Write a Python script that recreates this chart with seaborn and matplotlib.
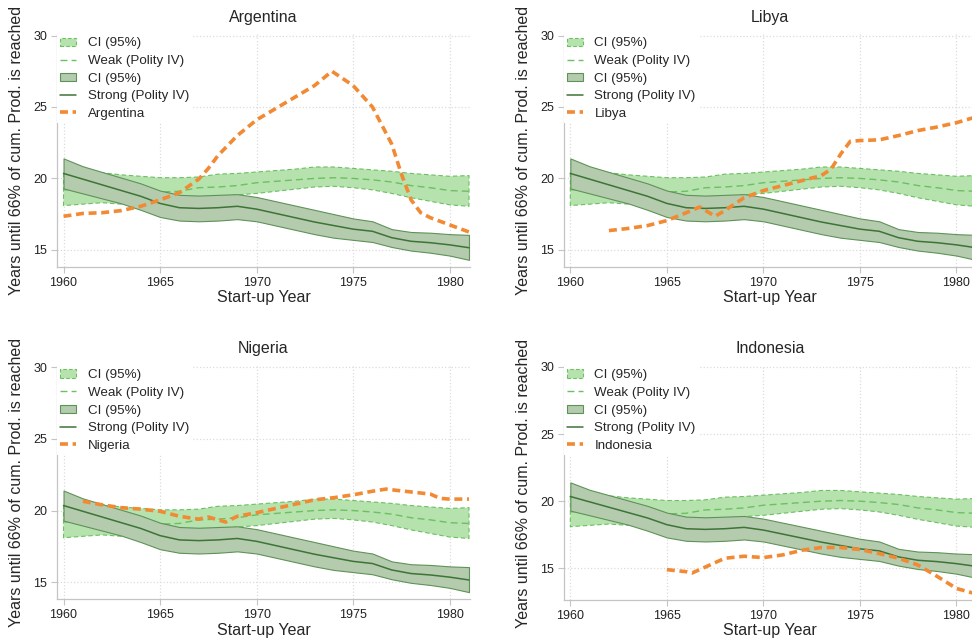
import matplotlib
matplotlib.use("Agg")
import matplotlib.pyplot as plt
import seaborn as sns
import numpy as np
import pandas as pd

# ---------------- data ----------------
years = list(range(1960, 1982))

strong_mean = [20.35, 19.95, 19.55, 19.15, 18.75, 18.25, 17.95, 17.9, 17.95, 18.05, 17.85,
               17.55, 17.25, 16.95, 16.7, 16.45, 16.3, 15.85, 15.6, 15.5, 15.35, 15.15]
strong_upper = [21.4, 20.85, 20.45, 20.05, 19.65, 19.15, 18.85, 18.8, 18.85, 18.9, 18.7,
                18.4, 18.1, 17.8, 17.5, 17.2, 17.0, 16.45, 16.25, 16.2, 16.1, 16.05]
strong_lower = [19.3, 18.95, 18.6, 18.25, 17.8, 17.3, 17.05, 17.0, 17.05, 17.15, 17.0,
                16.7, 16.4, 16.1, 15.85, 15.7, 15.55, 15.2, 14.95, 14.8, 14.6, 14.3]

weak_mean = [19.2, 19.25, 19.3, 19.25, 19.15, 19.05, 19.1, 19.35, 19.4, 19.5, 19.7,
             19.8, 19.9, 20.0, 20.05, 20.0, 19.9, 19.75, 19.5, 19.35, 19.15, 19.1]
weak_upper = [20.4, 20.5, 20.4, 20.25, 20.15, 20.05, 20.05, 20.1, 20.3, 20.35, 20.45,
              20.55, 20.65, 20.8, 20.8, 20.7, 20.6, 20.5, 20.35, 20.25, 20.15, 20.2]
weak_lower = [18.1, 18.2, 18.3, 18.2, 18.1, 18.1, 18.2, 18.5, 18.7, 18.85, 18.95,
              19.1, 19.25, 19.4, 19.45, 19.35, 19.2, 18.95, 18.65, 18.4, 18.15, 18.05]

arg_years = [1960, 1961, 1962, 1963, 1964, 1965, 1966, 1967, 1967.5, 1968, 1969, 1970, 1971,
             1972, 1973, 1973.9, 1975, 1976, 1977, 1977.5, 1978, 1978.5, 1979, 1980, 1981]
arg_vals = [17.35, 17.55, 17.6, 17.75, 18.05, 18.5, 19.0, 19.95, 20.7, 21.6, 23.0, 24.1, 24.9,
            25.7, 26.5, 27.5, 26.5, 25.0, 22.4, 20.3, 18.5, 17.6, 17.25, 16.75, 16.25]

lby_years = [1962, 1963, 1964, 1965, 1966, 1966.7, 1967.5, 1968, 1969, 1970, 1971, 1972,
             1973, 1973.5, 1974, 1974.5, 1975, 1976, 1977, 1978, 1979, 1980, 1981]
lby_vals = [16.35, 16.5, 16.7, 17.05, 17.6, 18.0, 17.35, 17.75, 18.65, 19.15, 19.5, 19.85,
            20.2, 20.65, 21.7, 22.6, 22.65, 22.7, 23.0, 23.35, 23.6, 23.9, 24.3]

nga_years = [1961, 1962, 1963, 1964, 1965, 1966, 1967, 1967.5, 1968, 1968.4, 1969, 1970,
             1971, 1972, 1973, 1974, 1975, 1976, 1976.7, 1977, 1978, 1979, 1979.5, 1980, 1981]
nga_vals = [20.65, 20.4, 20.2, 20.1, 19.95, 19.6, 19.4, 19.55, 19.35, 19.2, 19.6, 19.85,
            20.15, 20.45, 20.75, 20.9, 21.1, 21.35, 21.5, 21.45, 21.3, 21.15, 20.85, 20.8, 20.8]

idn_years = [1965, 1966, 1966.3, 1967, 1968, 1969, 1970, 1971, 1972, 1973, 1974, 1975,
             1976, 1977, 1978, 1979, 1980, 1981]
idn_vals = [14.9, 14.75, 14.65, 15.1, 15.75, 15.9, 15.8, 16.0, 16.35, 16.55, 16.55, 16.4,
            16.1, 15.75, 15.25, 14.4, 13.5, 13.1]

countries = ["Argentina", "Libya", "Nigeria", "Indonesia"]
country_series = {
    "Argentina": (arg_years, arg_vals),
    "Libya": (lby_years, lby_vals),
    "Nigeria": (nga_years, nga_vals),
    "Indonesia": (idn_years, idn_vals),
}
ylims = {"Argentina": (13.8, 30.1), "Libya": (13.8, 30.1),
         "Nigeria": (13.8, 30.1), "Indonesia": (12.64, 30.07)}

y_label = "Years until 66% of cum. Prod. is reached"
x_label = "Start-up Year"

# ---------------- style ----------------
sns.set_style("white")
plt.rcParams["font.family"] = ["Liberation Sans", "DejaVu Sans"]

WEAK_FILL = "#b6e2ae"
WEAK_EDGE = "#6cbf62"
STRONG_FILL = "#b4cbae"
STRONG_EDGE = "#5f9259"
STRONG_LINE = "#3d7437"
ORANGE = "#f28a33"
GRID = "#dcdcdc"
SPINE = "#c4c4c4"

fig = plt.figure(figsize=(9.72, 6.44), dpi=100)
positions = {
    "Argentina": [0.0586, 0.5854, 0.4249, 0.3616],
    "Libya": [0.5800, 0.5854, 0.4249, 0.3616],
    "Nigeria": [0.0586, 0.0694, 0.4249, 0.3623],
    "Indonesia": [0.5800, 0.0683, 0.4249, 0.3634],
}

band = pd.DataFrame({"year": years, "strong": strong_mean, "weak": weak_mean})

for name in countries:
    ax = fig.add_axes(positions[name])
    ax.fill_between(years, weak_lower, weak_upper, facecolor=WEAK_FILL,
                    edgecolor=WEAK_EDGE, linewidth=0.8, linestyle=(0, (4, 2.5)),
                    label="CI (95%)", zorder=2)
    sns.lineplot(data=band, x="year", y="weak", ax=ax, color=WEAK_EDGE, linewidth=1.0,
                 linestyle=(0, (5, 3)), label="Weak (Polity IV)", zorder=3)
    ax.fill_between(years, strong_lower, strong_upper, facecolor=STRONG_FILL,
                    edgecolor=STRONG_EDGE, linewidth=0.8, label="CI (95%)", zorder=4)
    sns.lineplot(data=band, x="year", y="strong", ax=ax, color=STRONG_LINE, linewidth=1.1,
                 label="Strong (Polity IV)", zorder=5)
    cx, cy = country_series[name]
    cdf = pd.DataFrame({"year": cx, "val": cy})
    sns.lineplot(data=cdf, x="year", y="val", ax=ax, color=ORANGE, linewidth=2.6,
                 linestyle=(0, (2.2, 1.3)), label=name, zorder=6)

    ax.set_xlim(1959.66, 1981.05)
    ax.set_ylim(*ylims[name])
    ax.set_xticks([1960, 1965, 1970, 1975, 1980])
    ax.set_yticks([15, 20, 25, 30])
    ax.grid(True, color=GRID, linestyle=":", linewidth=0.9)
    ax.set_axisbelow(True)
    for s in ["top", "right"]:
        ax.spines[s].set_visible(False)
    for s in ["left", "bottom"]:
        ax.spines[s].set_color(SPINE)
        ax.spines[s].set_linewidth(0.9)
    ax.tick_params(axis="both", length=4, width=0.8, color=SPINE, labelsize=9,
                   pad=3, labelcolor="#222222", left=True, bottom=True)
    ax.set_title(name, fontsize=11.5, pad=9)
    ax.set_xlabel(x_label, fontsize=11.5)
    ax.set_ylabel(y_label, fontsize=11.5)
    ax.yaxis.set_label_coords(-0.08, 0.5)
    ax.xaxis.set_label_coords(0.5, -0.10)

    leg = ax.legend(loc="upper left", bbox_to_anchor=(0.0, 1.0), borderaxespad=0.0,
                    fontsize=9.6, frameon=True, facecolor="white", edgecolor="none",
                    framealpha=1.0, fancybox=False, borderpad=0.25, labelspacing=0.42,
                    handlelength=1.2, handletextpad=0.85, handleheight=0.6)
    leg.set_zorder(10)

fig.savefig("out.png", dpi=100)
